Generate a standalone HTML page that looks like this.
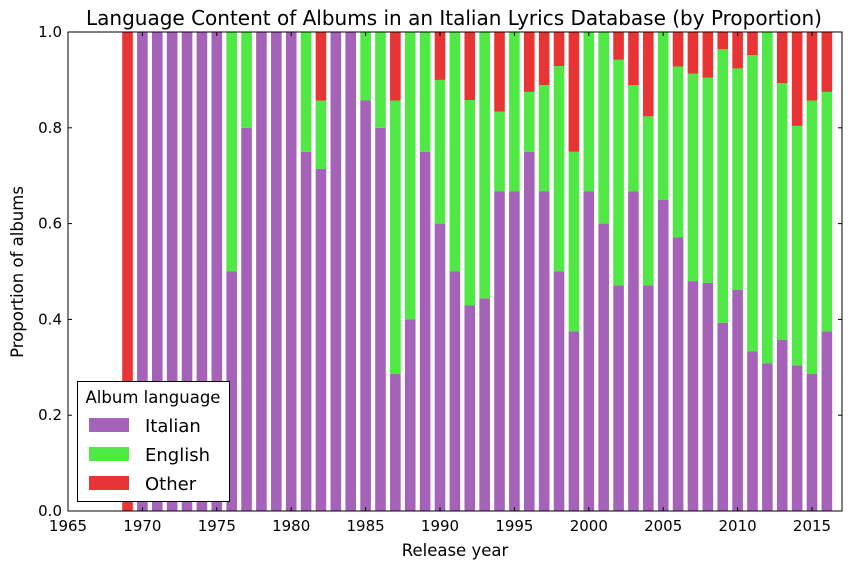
<!DOCTYPE html>
<html><head><meta charset="utf-8"><style>
body{margin:0;background:#fff;}
svg text{font-family:"DejaVu Sans","Liberation Sans",sans-serif;fill:#000;}
</style></head><body>
<svg id="chart" width="852" height="570" xmlns="http://www.w3.org/2000/svg">
<rect width="852" height="570" fill="#fff"/>
<g id="bars"></g>
<g id="axes"></g>
</svg>
<script>
const years=[1969,1970,1971,1972,1973,1974,1975,1976,1977,1978,1979,1980,1981,1982,1983,1984,1985,1986,1987,1988,1989,1990,1991,1992,1993,1994,1995,1996,1997,1998,1999,2000,2001,2002,2003,2004,2005,2006,2007,2008,2009,2010,2011,2012,2013,2014,2015,2016];
const italian=[0,1,1,1,1,1,1,.5,.8,1,1,1,.75,.714,1,1,.857,.8,.286,.4,.75,.6,.5,.429,.444,.667,.667,.75,.667,.5,.375,.667,.6,.471,.667,.471,.65,.571,.48,.476,.393,.462,.333,.308,.357,.304,.286,.375];
const english=[0,0,0,0,0,0,0,.5,.2,0,0,0,.25,.143,0,0,.143,.2,.571,.6,.25,.3,.5,.429,.556,.167,.333,.125,.222,.429,.375,.333,.4,.471,.222,.353,.35,.357,.433,.429,.571,.462,.619,.692,.536,.5,.571,.5];
const other=[1,0,0,0,0,0,0,0,0,0,0,0,0,.143,0,0,0,0,.143,0,0,.1,0,.143,0,.167,0,.125,.111,.071,.25,0,0,.059,.111,.176,0,.071,.087,.095,.036,.077,.048,0,.107,.196,.143,.125];
const xTicks=[1965,1970,1975,1980,1985,1990,1995,2000,2005,2010,2015];
const yTicks=[0,0.2,0.4,0.6,0.8,1.0];
const seriesNames=["Italian","English","Other"];
const colors=["#a463b8","#4fe844","#e83434"];

const L=68,R=842,T=32,B=511;
const xs=y=>L+(y-1965)*14.88;
const ys=v=>B-v*(B-T);
const NS="http://www.w3.org/2000/svg";
function mk(tag,attrs,parent){const e=document.createElementNS(NS,tag);for(const k in attrs)e.setAttribute(k,attrs[k]);parent.appendChild(e);return e;}
const gb=document.getElementById('bars'),ga=document.getElementById('axes');
const bw=10.6;
years.forEach((yr,i)=>{
  let base=0;
  [italian[i],english[i],other[i]].forEach((v,s)=>{
    if(v>0){
      const r=mk('rect',{x:xs(yr)-bw/2,y:ys(base+v),width:bw,height:ys(base)-ys(base+v),fill:colors[s]},gb);
      
      
    }
    base+=v;
  });
});
const fr=mk('rect',{x:L,y:T,width:R-L,height:B-T,fill:'none',stroke:'#000','stroke-width':1},ga);


xTicks.forEach(t=>{
  const x=xs(t);
  mk('line',{x1:x,x2:x,y1:B,y2:B-4,stroke:'#000'},ga);
  mk('line',{x1:x,x2:x,y1:T,y2:T+4,stroke:'#000'},ga);
  const tx=mk('text',{x:x,y:B+20,'text-anchor':'middle','font-size':15},ga);
  tx.textContent=t;
  
  
});
yTicks.forEach(t=>{
  const y=ys(t);
  mk('line',{x1:L,x2:L+4,y1:y,y2:y,stroke:'#000'},ga);
  mk('line',{x1:R,x2:R-4,y1:y,y2:y,stroke:'#000'},ga);
  const tx=mk('text',{x:L-6,y:y+5,'text-anchor':'end','font-size':15},ga);
  tx.textContent=t.toFixed(1);
  
  
});
</script>
<svg width="852" height="570" style="position:absolute;left:0;top:0" xmlns="http://www.w3.org/2000/svg">
<text x="454" y="25" text-anchor="middle" font-size="20">Language Content of Albums in an Italian Lyrics Database (by Proportion)</text>
<text x="455" y="556" text-anchor="middle" font-size="16.5">Release year</text>
<text x="23" y="272" text-anchor="middle" font-size="16.5" transform="rotate(-90 23 272)">Proportion of albums</text>
<g>
<rect x="77.5" y="381.5" width="152" height="120" fill="#fff" stroke="#000"/>
<text x="153" y="403" text-anchor="middle" font-size="16.5">Album language</text>
<rect x="89" y="418" width="40" height="14" fill="#a463b8"/>
<text x="145" y="432" font-size="18">Italian</text>
<rect x="89" y="447" width="40" height="14" fill="#4fe844"/>
<text x="145" y="461" font-size="18">English</text>
<rect x="89" y="476" width="40" height="14" fill="#e83434"/>
<text x="145" y="490" font-size="18">Other</text>
</g>
</svg>
</body></html>
